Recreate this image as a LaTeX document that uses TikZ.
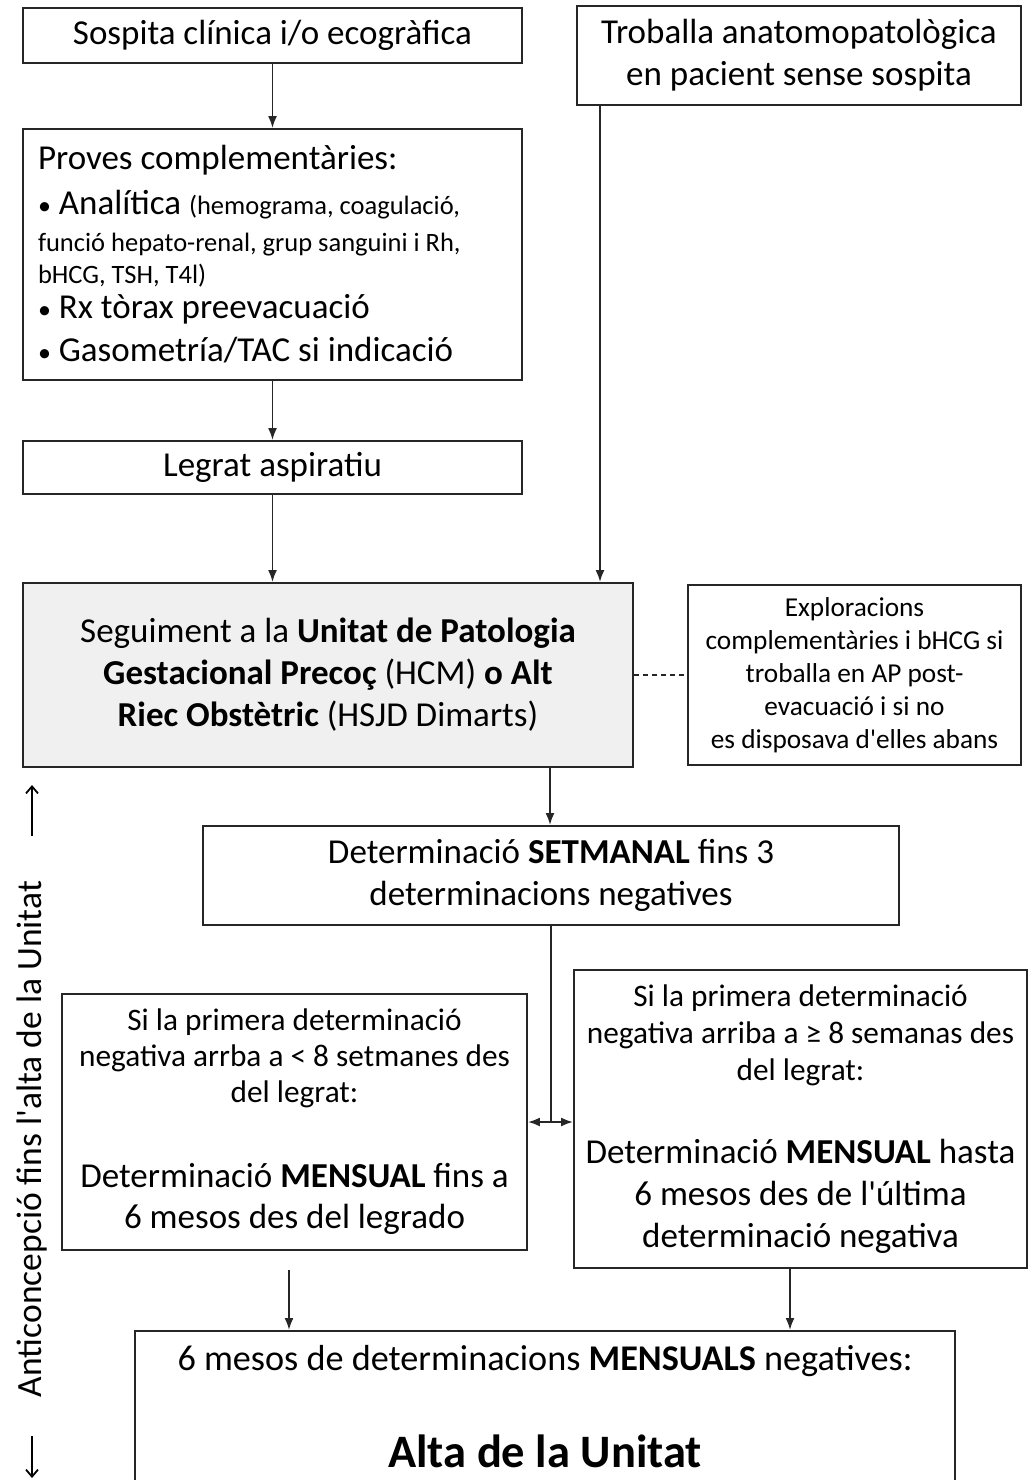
\documentclass[tikz,border=0pt]{standalone}
\usepackage{fontspec}
\setmainfont{Carlito}[Ligatures=TeXOff]
\usetikzlibrary{arrows.meta,calc}
\newcommand\smbul{{\fontsize{26}{30}\selectfont •}}
\tikzset{
  box/.style={draw=black!85, line width=1.9pt, inner sep=0pt, align=center,
    font=\fontsize{35}{42}\selectfont},
  arr/.style={-{Latex[length=12pt,width=9pt]}, line width=1.9pt, draw=black!85},
  plain/.style={line width=1.9pt, draw=black!85},
  openarr/.style={-{Straight Barb[length=7pt,width=12pt]}, line width=1.8pt},
}
\begin{document}
\begin{tikzpicture}[x=1pt,y=-1pt]
\useasboundingbox[fill=white] (0,0) rectangle (1029,1480);

\node[box, minimum width=499, minimum height=55] (sospita) at (272.5,35.5)
  {Sospita clínica i/o ecogràfica};
\node[box, minimum width=444, minimum height=99] (troballa) at (799,55.5)
  {Troballa anatomopatològica\\en pacient sense sospita};
\node[box, minimum width=499, minimum height=251, text width=469, align=flush left,
      font=\fontsize{35}{38}\selectfont] (proves) at (272.5,254.5)
  {Proves complementàries:\\[7pt]
   \smbul\ Analítica {\fontsize{26.5}{30}\selectfont (hemograma, coagulació,}\\[-1pt]
   {\fontsize{26.5}{30}\selectfont funció hepato-renal, grup sanguini i Rh,}\\[-6pt]
   {\fontsize{26.5}{30}\selectfont bHCG, TSH, T4l)}\\[-3pt]
   \smbul\ Rx tòrax preevacuació\\[5pt]
   \smbul\ Gasometría/TAC si indicació};
\node[box, minimum width=499, minimum height=53] (legrat) at (272.5,467.5)
  {Legrat aspiratiu};
\node[box, fill=black!6, minimum width=610, minimum height=184] (seg) at (328,675)
  {Seguiment a la \textbf{Unitat de Patologia}\\
   \textbf{Gestacional Precoç} (HCM) \textbf{o Alt}\\
   \textbf{Riec Obstètric} (HSJD Dimarts)};
\node[box, minimum width=333, minimum height=180,
      font=\fontsize{27.3}{33}\selectfont] (expl) at (854.5,675)
  {Exploracions\\complementàries i bHCG si\\troballa en AP post-\\evacuació i si no\\es disposava d'elles abans};
\node[box, minimum width=696, minimum height=99] (setm) at (551,875.5)
  {Determinació \textbf{SETMANAL} fins 3\\determinacions negatives};
\node[box, minimum width=465, minimum height=256,
      font=\fontsize{31.3}{36}\selectfont] (leftb) at (294.5,1122)
  {Si la primera determinació\\negativa arrba a < 8 setmanes des\\del legrat:\\[49pt]
   {\fontsize{35}{41}\selectfont Determinació \textbf{MENSUAL} fins a}\\[5pt]
   {\fontsize{35}{41}\selectfont 6 mesos des del legrado}};
\node[box, minimum width=453, minimum height=298,
      font=\fontsize{31.3}{37}\selectfont] (rightb) at (800.5,1119)
  {Si la primera determinació\\negativa arriba a ≥ 8 semanas des\\del legrat:\\[46pt]
   {\fontsize{35}{41}\selectfont Determinació \textbf{MENSUAL} hasta}\\[5pt]
   {\fontsize{35}{41}\selectfont 6 mesos des de l'última}\\[5pt]
   {\fontsize{35}{41}\selectfont determinació negativa}};
\node[box, minimum width=820, minimum height=165, anchor=north] (bottom) at (545,1330) {};
\node[font=\fontsize{36.2}{40}\selectfont] (bt1) at (545,1361)
  {6 mesos de determinacions \textbf{MENSUALS} negatives:};
\node[font=\fontsize{46.5}{50}\selectfont\bfseries] (bt2) at (545,1451)
  {Alta de la Unitat};

\node[rotate=90, font=\fontsize{35.5}{40}\selectfont] (anti) at (32,1139)
  {Anticoncepció fins l'alta de la Unitat};
\coordinate (au1) at (32,836);
\coordinate (au2) at (32,785);
\coordinate (ad1) at (32,1436);
\coordinate (ad2) at (32,1478);
\draw[openarr] (au1) -- (au2);
\draw[openarr] (ad1) -- (ad2);

% connectors
\coordinate (tx) at (600,0);
\coordinate (sx) at (550,0);
\coordinate (split) at (551,1122);
\coordinate (la) at (289,1270);
\coordinate (rx) at (790,0);
\draw[arr] (sospita.south) -- (proves.north);
\draw[arr] (proves.south) -- (legrat.north);
\draw[arr] (legrat.south) -- (seg.north -| legrat.south);
\draw[arr] (troballa.south -| tx) -- (seg.north -| tx);
\draw[plain, line width=1.4pt, dash pattern=on 5pt off 4pt] (seg.east) -- (expl.west);
\draw[arr] (seg.south -| sx) -- (setm.north -| sx);
\draw[plain] (setm.south) -- (split);
\draw[arr] (split) -- (leftb.east |- split);
\draw[arr] (split) -- (rightb.west |- split);
\draw[arr] (la) -- (bottom.north -| la);
\draw[arr] (rightb.south -| rx) -- (bottom.north -| rx);
\end{tikzpicture}
\end{document}
